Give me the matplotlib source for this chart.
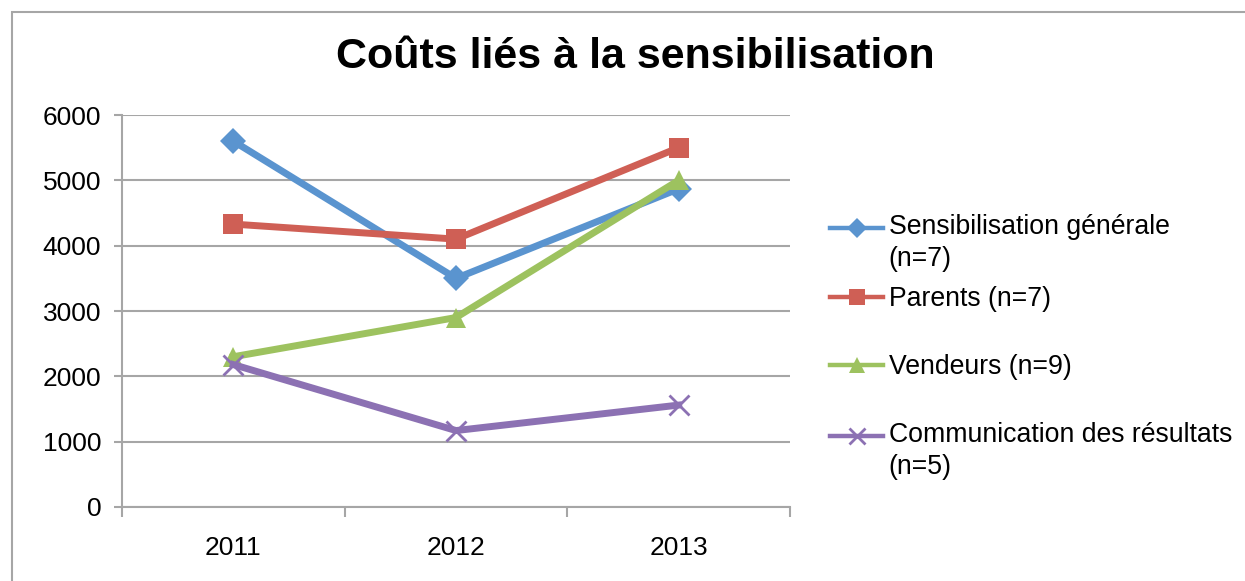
import matplotlib.pyplot as plt
from matplotlib.patches import Rectangle
from matplotlib.legend_handler import HandlerLine2D
from matplotlib.transforms import Affine2D

# data
years = ['2011', '2012', '2013']
sensibilisation = [5600, 3500, 4870]
parents = [4330, 4100, 5500]
vendeurs = [2300, 2900, 5000]
communication = [2180, 1170, 1560]

labels = ['Sensibilisation générale\n(n=7)', 'Parents (n=7)',
          'Vendeurs (n=9)', 'Communication des résultats\n(n=5)']
colors = ['#5A94CF', '#CF5F55', '#9DC25F', '#8C71B3']
markers = ['D', 's', '^', 'x']
msizes = [13, 14, 15, 15]

plt.rcParams['font.family'] = ['Liberation Sans', 'DejaVu Sans']


class FirstLineHandler(HandlerLine2D):
    # move the handle up so it sits next to the first line of a 2-line label
    def __init__(self, lift=0, **kw):
        super().__init__(**kw)
        self.lift = lift

    def create_artists(self, legend, orig_handle, xdescent, ydescent,
                       width, height, fontsize, trans):
        trans = trans + Affine2D().translate(0, self.lift)
        return super().create_artists(legend, orig_handle, xdescent, ydescent,
                                      width, height, fontsize, trans)


fig = plt.figure(figsize=(12.45, 5.81), dpi=100)
W, H = 1245, 581
ax = fig.add_axes([122 / W, 1 - 507 / H, (790 - 122) / W, (507 - 115) / H])

series = [sensibilisation, parents, vendeurs, communication]
x = list(range(len(years)))
lines = []
for vals, c, m, ms in zip(series, colors, markers, msizes):
    mew = 2 if m == 'x' else 0
    ln, = ax.plot(x, vals, color=c, lw=5, marker=m, markersize=ms,
                  markeredgewidth=mew, markeredgecolor=c, markerfacecolor=c,
                  solid_joinstyle='round', clip_on=False)
    lines.append(ln)

grid_c = '#A6A6A6'
ax.set_ylim(0, 6000)
ax.set_xlim(-0.5, 2.5)
ax.set_yticks(range(0, 6001, 1000))
ax.set_xticks(x)
ax.set_xticklabels(years)
ax.set_xticks([-0.5, 0.5, 1.5, 2.5], minor=True)
ax.yaxis.grid(True, color=grid_c, lw=1.5)
ax.set_axisbelow(True)
for s in ['top', 'right']:
    ax.spines[s].set_visible(False)
for s in ['left', 'bottom']:
    ax.spines[s].set_color(grid_c)
    ax.spines[s].set_linewidth(1.5)
ax.tick_params(axis='y', length=6, width=1.5, color=grid_c, pad=9, labelsize=19)
ax.tick_params(axis='x', which='major', length=0, pad=21, labelsize=19)
ax.tick_params(axis='x', which='minor', length=7, width=1.5, color=grid_c)

fig.text(635 / W, 1 - 57 / H, 'Coûts liés à la sensibilisation',
         ha='center', va='center', fontsize=31, fontweight='bold')

# legend, one block per series
leg_tops = [224, 296, 364, 432]
for ln, lab, top in zip(lines, labels, leg_tops):
    lift = 15.5 if '\n' in lab else 0
    leg = fig.legend([ln], [lab], loc='upper left',
                     bbox_to_anchor=(830 / W, 1 - (top - 10) / H),
                     frameon=False, fontsize=19.2, borderpad=0, borderaxespad=0,
                     handlelength=2.0, handletextpad=0.2,
                     handler_map={ln: FirstLineHandler(lift=lift, numpoints=1)})
    for t in leg.get_texts():
        t.set_linespacing(1.3)
    for h in leg.legend_handles:
        h.set_markersize(h.get_markersize() * 0.8)
        h.set_linewidth(3.2)

# outer chart border
fig.patches.append(Rectangle((12 / W, -0.1), 1.2, 1 - 12 / H + 0.1,
                             transform=fig.transFigure, fill=False,
                             edgecolor=grid_c, lw=1.5))

fig.savefig('out.png', dpi=100)
